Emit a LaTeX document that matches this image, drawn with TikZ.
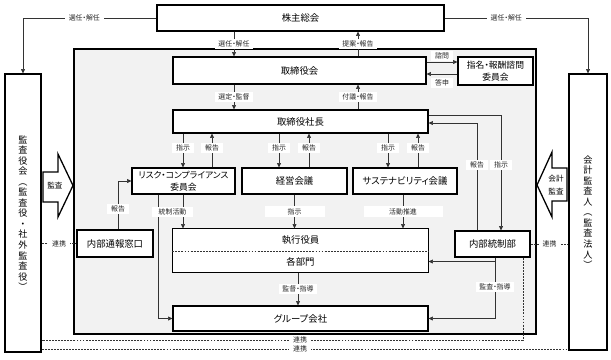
\documentclass[tikz,border=0pt]{standalone}
\usepackage{fontspec}
\setmainfont{Noto Sans CJK JP}[RawFeature=+palt]
\usetikzlibrary{arrows.meta,calc}

\begin{document}
\begin{tikzpicture}[x=0.03cm,y=-0.03cm,
  box/.style={draw=black,line width=1.1pt,fill=white,inner sep=0pt,align=center,font=\fontsize{8}{10}\selectfont},
  wh/.style 2 args={minimum width=#1*0.03cm,minimum height=#2*0.03cm},
  sbox/.style={box,font=\fontsize{7.5}{10.5}\selectfont},
  vbox/.style={box,font=\fontsize{7.8}{9}\selectfont},
  lbl/.style={fill=white,inner xsep=3.2pt,inner ysep=1.6pt,font=\fontsize{5.9}{6.5}\selectfont,text=black!85},
  lbltight/.style={lbl,inner ysep=0.4pt},
  con/.style={draw=black!80,line width=0.6pt},
  arr/.style={con,-{Triangle[length=1.3mm,width=1.2mm]}},
  dsh/.style={draw=black!80,line width=0.6pt,dash pattern=on 1.6pt off 1pt},
  bigarr/.style={draw=black,line width=1.1pt,fill=white,line join=miter},
  arrtext/.style={align=center,font=\fontsize{6.5}{10.5}\selectfont}]
\useasboundingbox (0,0) rectangle (611,359);
% coordinates
\coordinate (xa)   at (234,0);
\coordinate (xb)   at (358,0);
\coordinate (xr0)  at (158,0);
\coordinate (xr1)  at (183,0);
\coordinate (xr2)  at (212,0);
\coordinate (xm1)  at (279,0);
\coordinate (xm2)  at (309,0);
\coordinate (xs1)  at (388,0);
\coordinate (xs2)  at (418,0);
\coordinate (xsus) at (403,0);
\coordinate (xw)   at (118,0);
\coordinate (xdep) at (298,0);
\coordinate (xi1)  at (477,0);
\coordinate (xi2)  at (501,0);
\coordinate (xi3)  at (495,0);
\coordinate (xi4)  at (523,0);
\coordinate (yn1)  at (0,62);
\coordinate (yn2)  at (0,74);
\coordinate (yc1)  at (0,115);
\coordinate (yc2)  at (0,123);
\coordinate (yd1)  at (0,340);
\coordinate (yd2)  at (0,349);
% background panel
\draw[line width=1.1pt,fill=black!5] (74,49) rectangle (536,334);
% boxes
\node[box,wh={287}{26}]  (gm)   at (300.5,18)   {株主総会};
\node[box,wh={253}{27}]  (bod)  at (299.5,70.5) {取締役会};
\node[sbox,wh={75}{28}]  (nom)  at (495.5,71)   {指名・報酬諮問\\委員会};
\node[box,wh={255}{23}]  (ceo)  at (300.5,121.5){取締役社長};
\node[sbox,wh={103}{26}] (risk) at (183.5,181)  {リスク・コンプライアンス\\委員会};
\node[box,wh={105}{26}]  (mgt)  at (294.5,181)  {経営会議};
\node[box,wh={104}{26}]  (sus)  at (405,181)    {サステナビリティ会議};
\node[box,draw=none,wh={255}{22}] (exe)  at (300.5,240)  {執行役員};
\node[box,draw=none,wh={255}{21}] (dept) at (300.5,261.5){各部門};
\draw[line width=1.1pt] (exe.north west) rectangle (dept.south east);
\draw[dsh] (exe.south west) -- (exe.south east);
\node[box,wh={76}{27}]   (whistle) at (115,243.5) {内部通報窓口};
\node[box,wh={75}{26}]   (ics)  at (492.5,244)  {内部統制部};
\node[box,wh={255}{25}]  (grp)  at (300.5,318.5){グループ会社};
\node[vbox,wh={36}{278}] (aud)  at (23,213)
  {監\\査\\役\\会\\︵\\監\\査\\役\\・\\社\\外\\監\\査\\役\\︶};
\node[vbox,wh={38}{276}] (acc)  at (588,212)
  {会\\計\\監\\査\\人\\︵\\監\\査\\法\\人\\︶};
% audit arrows
\draw[bigarr] (43,172) -- (58,172) -- (58,154) -- (73,185.5) -- (58,217) -- (58,202) -- (43,202) -- cycle;
\node[arrtext] (audL) at (55,186) {監査};
\draw[bigarr] (567,168) -- (552,168) -- (552,152) -- (537,185) -- (552,217) -- (552,201) -- (567,201) -- cycle;
\node[arrtext] (audR) at (556,185) {会計\\監査};
% shareholders
\draw[arr] (gm.west) -| node[lbl,pos=0.27] (t1) {選任・解任} (aud.north);
\draw[arr] (gm.east) -| node[lbl,pos=0.215] (t2) {選任・解任} (acc.north);
\draw[arr] (gm.south -| xa) -- node[lbl] (t3) {選任・解任} (bod.north -| xa);
\draw[arr] (bod.north -| xb) -- node[lbl] (t4) {提案・報告} (gm.south -| xb);
% board
\draw[arr] (bod.east |- yn1) -- node[lbl,above=0.3pt] (t5) {諮問} (nom.west |- yn1);
\draw[arr] (nom.west |- yn2) -- node[lbl,below=3pt] (t6) {答申} (bod.east |- yn2);
\draw[arr] (bod.south -| xa) -- node[lbl] (t7) {選定・監督} (ceo.north -| xa);
\draw[arr] (ceo.north -| xb) -- node[lbl] (t8) {付議・報告} (bod.south -| xb);
% president
\draw[arr] (ceo.south -| xr1) -- node[lbl,pos=0.43] (t9) {指示} (risk.north -| xr1);
\draw[arr] (risk.north -| xr2) -- node[lbl,pos=0.57] (t10) {報告} (ceo.south -| xr2);
\draw[arr] (ceo.south -| xm1) -- node[lbl,pos=0.43] (t11) {指示} (mgt.north -| xm1);
\draw[arr] (mgt.north -| xm2) -- node[lbl,pos=0.57] (t12) {報告} (ceo.south -| xm2);
\draw[arr] (ceo.south -| xs1) -- node[lbl,pos=0.43] (t13) {指示} (sus.north -| xs1);
\draw[arr] (sus.north -| xs2) -- node[lbl,pos=0.57] (t14) {報告} (ceo.south -| xs2);
\draw[arr] (ceo.east |- yc1) -| (ics.north -| xi2);
\draw[arr] (ics.north -| xi1) |- (ceo.east |- yc2);
\node[lbl] (t15) at (477,165) {報告};
\node[lbl] (t16) at (501,165) {指示};
% committees
\draw[arr] (risk.south -| xr1) -- (exe.north -| xr1);
\draw[arr] (risk.south -| xr0) |- (grp.west);
\node[lbl,minimum width=1.23cm] (t17) at (172.5,212) {統制活動};
\draw[arr] (mgt.south) -- node[lbl,minimum width=1.8cm] (t18) {指示} (mgt.south |- exe.north);
\draw[arr] (sus.south -| xsus) -- node[lbl,minimum width=2.37cm] (t19) {活動推進} (exe.north -| xsus);
\draw[arr] (whistle.north -| xw) |- (risk.west);
\node[lbl] (t20) at (118,209) {報告};
% internal control
\draw[arr] (ics.south -| xi3) |- (dept.east);
\draw[arr] (ics.south -| xi3) |- (grp.east);
\node[lbl] (t21) at (495,287) {監査・指導};
\draw[arr] (dept.south -| xdep) -- node[lbl] (t22) {監督・指導} (grp.north -| xdep);
% cooperation
\draw[dsh] (aud.east |- whistle.west) -- node[lbl] (t23) {連携} (whistle.west);
\draw[dsh] (ics.east) -- node[lbl] (t24) {連携} (acc.west |- ics.east);
\draw[dsh] (ics.south -| xi4) |- (aud.east |- yd1);
\node[lbltight] (t25) at (300,340) {連携};
\draw[dsh] (aud.east |- yd2) -- (acc.west |- yd2);
\node[lbltight] (t26) at (300,349) {連携};
\end{tikzpicture}
\end{document}
